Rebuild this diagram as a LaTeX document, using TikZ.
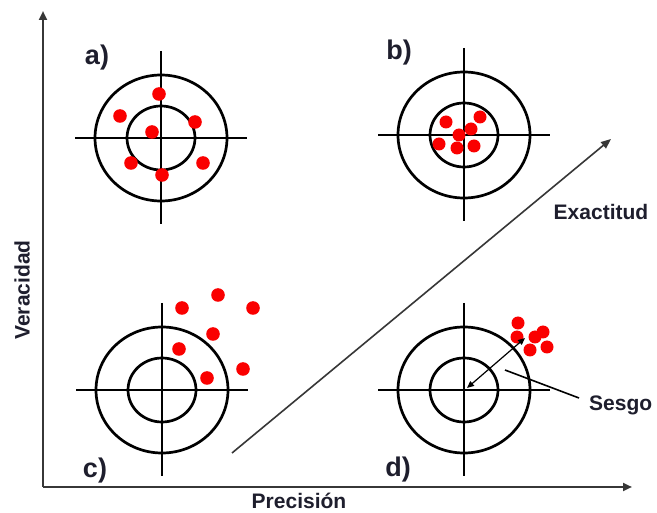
\documentclass[tikz,border=0pt]{standalone}
\usepackage{fontspec}
\setmainfont{Liberation Sans}
\usetikzlibrary{arrows.meta}
\definecolor{txt}{RGB}{30,30,45}
\definecolor{axis}{RGB}{55,55,55}
\definecolor{dotred}{RGB}{250,0,0}
\tikzset{
  tline/.style={draw=black, line width=2.7pt},
  lbl/.style={font=\bfseries\fontsize{27}{31}\selectfont, text=txt, inner sep=0pt},
  axlbl/.style={font=\bfseries\fontsize{21}{25}\selectfont, text=txt, inner sep=0pt},
  axisline/.style={draw=axis, line width=2.6pt, -{Triangle[length=9pt,width=8pt]}},
  target/.pic={
    \draw[tline] (-86,0) -- (86,0);
    \draw[tline] (0,-87) -- (0,86);
    \draw[tline] (0,0) ellipse [x radius=66pt, y radius=63pt];
    \draw[tline] (0,0) ellipse [x radius=34pt, y radius=32pt];
  },
  dot/.style={fill=dotred}
}
\begin{document}
\begin{tikzpicture}[x=1pt,y=-1pt]
\useasboundingbox[fill=white] (0,0) rectangle (657,513);
% axes
\coordinate (O) at (43,487);
\coordinate (Ytop) at (43,11);
\coordinate (Xend) at (632,487);
\draw[axisline] (O) -- (Ytop);
\draw[axisline] (O) -- (Xend);
% target centres
\coordinate (A) at (161,138);
\coordinate (B) at (464,135);
\coordinate (C) at (162,390);
\coordinate (D) at (464,390);
\pic at (A) {target};
\pic at (B) {target};
\pic at (C) {target};
\pic at (D) {target};
% dots a
\foreach \p in {(159,94),(120,116),(195,122),(152,132),(131,163),(203,163),(162,175)}
  \fill[dot] \p circle (6.8pt);
% dots b
\foreach \p in {(446,122),(480,117),(471,129),(459,135),(439,144),(457,148),(474,146)}
  \fill[dot] \p circle (6.5pt);
% dots c
\foreach \p in {(182,308),(218,295),(253,308),(213,334),(179,349),(243,369),(207,378)}
  \fill[dot] \p circle (6.8pt);
% dots d
\foreach \p in {(518,323),(517,337),(543,332),(535,337),(530,350),(547,347)}
  \fill[dot] \p circle (6.5pt);
% bias arrow
\coordinate (Dc) at (467,388);
\coordinate (Dm) at (525,338);
\draw[black, line width=1.2pt, {Triangle[length=7pt,width=6pt]}-{Triangle[length=7pt,width=6pt]}] (Dc) -- (Dm);
% Sesgo
\node[axlbl, anchor=west] (sesgo) at (589,405) {Sesgo};
\coordinate (Sp) at (505,370);
\coordinate (Se) at (579,398);
\draw[black, line width=1.6pt] (Sp) -- (Se);
% diagonal arrow
\coordinate (E1) at (232,453);
\coordinate (E2) at (611,139);
\draw[axis, line width=1.6pt, -{Triangle[length=10pt,width=8pt]}] (E1) -- (E2);
% labels
\node[axlbl] (exact) at (601,212) {Exactitud};
\node[axlbl] (prec) at (299,501) {Precisión};
\node[axlbl, rotate=90] (verac) at (22,290) {Veracidad};
\node[lbl] (la) at (97,58) {a)};
\node[lbl] (lb) at (399,53) {b)};
\node[lbl] (lc) at (95,471) {c)};
\node[lbl] (ld) at (398,470) {d)};
\end{tikzpicture}
\end{document}
